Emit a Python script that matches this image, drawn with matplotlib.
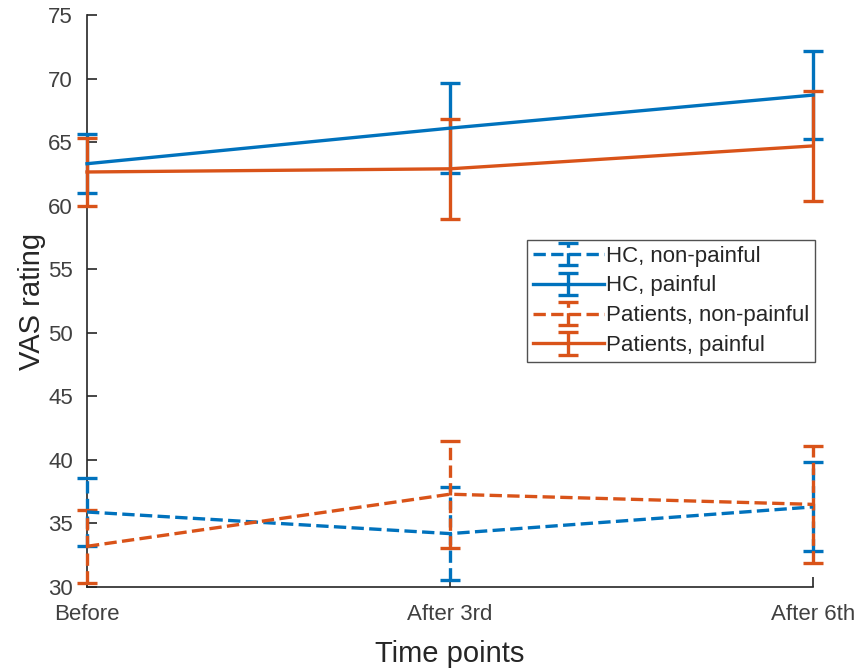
import matplotlib
matplotlib.use('Agg')
from matplotlib import pyplot as plt

plt.rcParams['font.family'] = ['Liberation Sans', 'DejaVu Sans']

timePts = ['Before', 'After 3rd', 'After 6th']
xPos = [1, 2, 3]

# group means and error half-widths
hcNonMean = [35.9, 34.2, 36.3]
hcNonErr = [2.65, 3.65, 3.5]
hcPainMean = [63.3, 66.1, 68.7]
hcPainErr = [2.3, 3.55, 3.45]
ptNonMean = [33.2, 37.3, 36.5]
ptNonErr = [2.85, 4.2, 4.6]
ptPainMean = [62.65, 62.9, 64.7]
ptPainErr = [2.7, 3.95, 4.3]

blue, orange = '#0072BD', '#D95319'
axCol = '#262626'
txtCol = '#404040'

def main():
    fig = plt.figure(figsize=(8.57, 6.68), dpi=100)
    ax = fig.add_axes([87/857, 1-587/668, (813-87)/857, (587-15)/668])
    series = [
        (hcNonMean, hcNonErr, blue, '--', 'HC, non-painful'),
        (hcPainMean, hcPainErr, blue, '-', 'HC, painful'),
        (ptNonMean, ptNonErr, orange, '--', 'Patients, non-painful'),
        (ptPainMean, ptPainErr, orange, '-', 'Patients, painful'),
    ]
    for m, e, c, ls, lbl in series:
        eb = ax.errorbar(xPos, m, yerr=e, color=c, linestyle=ls, linewidth=2.4,
                         elinewidth=2.4, capsize=7, capthick=2.4, label=lbl,
                         clip_on=False, zorder=3)
        eb[2][0].set_linestyle(ls)

    ax.set_xlim(1, 3)
    ax.set_ylim(30, 75)
    ax.set_xticks(xPos)
    ax.set_xticklabels(timePts)
    ax.set_yticks(range(30, 80, 5))
    ax.spines['top'].set_visible(False)
    ax.spines['right'].set_visible(False)
    for s in ['left', 'bottom']:
        ax.spines[s].set_color(axCol)
        ax.spines[s].set_linewidth(1.2)
    ax.tick_params(direction='in', length=7, width=1.2, colors=axCol,
                   labelsize=16, labelcolor=txtCol)
    ax.tick_params(axis='y', pad=10)
    ax.tick_params(axis='x', pad=12)
    ax.set_xlabel('Time points', fontsize=21, color=axCol, labelpad=11)
    ax.set_ylabel('VAS rating', fontsize=21, color=axCol, labelpad=2)

    leg = ax.legend(loc='upper left', bbox_to_anchor=((527-87)/726, (587-240)/572),
                    fontsize=16, frameon=True, fancybox=False, borderpad=0.25,
                    labelspacing=0.4, handlelength=3.2, handletextpad=0.1,
                    borderaxespad=0)
    leg.get_frame().set_edgecolor(axCol)
    leg.get_frame().set_linewidth(1.0)
    for t in leg.get_texts():
        t.set_color(axCol)

    fig.savefig('out.png', dpi=100)

if __name__=='__main__': main()
